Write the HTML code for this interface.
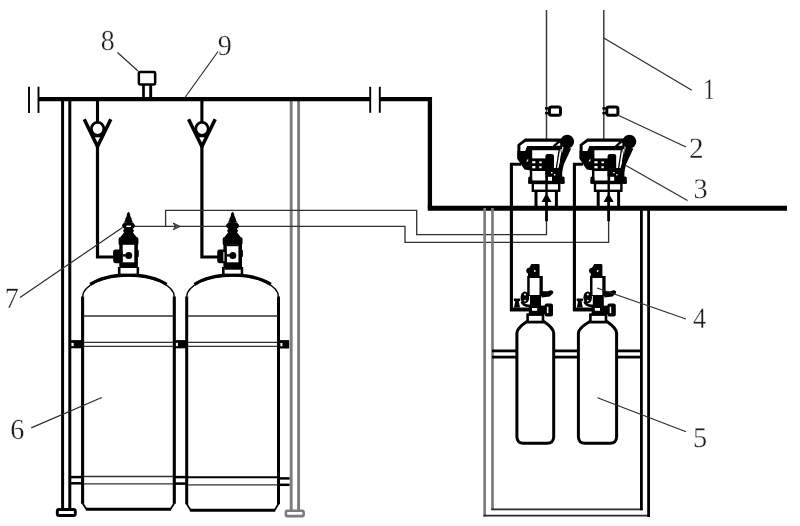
<!DOCTYPE html>
<html>
<head>
<meta charset="utf-8">
<title>Diagram</title>
<style>
html,body{margin:0;padding:0;background:#fff;width:800px;height:526px;overflow:hidden}
svg{display:block;position:absolute;left:0;top:0}
.lbl text{font-family:"Liberation Serif",serif;font-size:100px;fill:#1c1c1c;stroke:#fff;stroke-width:1.07px;text-rendering:geometricPrecision}
.k{stroke:#000;fill:none}
.w{stroke:#000;fill:#fff}
.b{fill:#000;stroke:none}
.thin{stroke:#303030;stroke-width:1.3;fill:none}
.lead{stroke:#2c2c2c;stroke-width:1.2;fill:none}
.g{stroke:#7c7c7c;fill:none}
</style>
</head>
<body>
<svg width="800" height="526" viewBox="0 0 800 526">
<rect x="0" y="0" width="800" height="526" fill="#fff"/>

<defs>
  <filter id="soft" x="-2%" y="-2%" width="104%" height="104%" color-interpolation-filters="sRGB"><feGaussianBlur stdDeviation="0.38"/></filter>
  <!-- check valve (Y with circle), origin = pipe centre x, y absolute -->
  <g id="chk">
    <line class="k" x1="0" y1="100" x2="0" y2="122" stroke-width="3.1"/>
    <polyline class="k" points="-13.3,119.2 0,146.6 13.3,119.2" stroke-width="3.5"/>
    <ellipse class="w" cx="0.1" cy="128.8" rx="6.2" ry="6.5" stroke-width="2.7"/>
    <line class="k" x1="-5.5" y1="136.3" x2="5.5" y2="136.3" stroke-width="2"/>
    <polyline class="k" points="0,144 0,257 16,257" stroke-width="3.2"/>
  </g>

  <!-- big cylinder valve, origin x = valve centre -->
  <g id="bv">
    <path class="b" d="M0,211.7 L1.4,213.2 L1.8,216 L3.1,218.4 L3.5,221 L5.2,222.6 L-5.2,222.6 L-3.5,221 L-3.1,218.4 L-1.8,216 L-1.4,213.2 Z"/>
    <ellipse class="b" cx="0" cy="225.7" rx="6.5" ry="3.8"/>
    <path class="b" d="M-4.3,227 L4.3,227 L4.5,232.6 L8.4,237.6 L-8.4,237.6 L-4.5,232.6 Z"/>
    <rect class="b" x="-5.4" y="229.6" width="10.8" height="2.4" rx="1.2"/>
    <rect class="b" x="-9.9" y="237" width="19.8" height="8.4" rx="2.2"/>
    <rect class="b" x="-9.2" y="242" width="18.6" height="27"/>
    <rect fill="#fff" x="-5.8" y="244.8" width="11.6" height="17.5"/>
    <circle class="b" cx="0.2" cy="255.4" r="3.5"/>
    <rect class="b" x="-5.8" y="254.2" width="3" height="2.4"/>
    <rect class="b" x="-15.4" y="249.6" width="9.4" height="13.6" rx="2.4"/>
    <rect class="b" x="8.8" y="250" width="1.5" height="7" rx=".7"/>
    <rect class="b" x="-10.6" y="267" width="21.2" height="8.8"/>
    <rect fill="#fff" x="-8" y="268" width="16.1" height="5.6"/>
  </g>

  
</defs>
<g filter="url(#soft)">

<!-- ===== left rack ===== -->
<line class="k" x1="62.6" y1="100" x2="62.6" y2="509" stroke-width="3"/>
<line class="k" x1="69.8" y1="100" x2="69.8" y2="509" stroke-width="3"/>
<rect class="w" x="57.3" y="509.5" width="18" height="6" rx="1.8" stroke-width="2.9"/>

<!-- ===== right (gray) rack ===== -->
<line class="g" x1="291.2" y1="100" x2="291.2" y2="510" stroke-width="2.9"/>
<line class="g" x1="298.6" y1="100" x2="298.6" y2="510" stroke-width="2.9"/>
<rect class="g" x="285.9" y="510.8" width="17.7" height="5.3" rx="1.4" stroke-width="2.6" fill="#f2f2f2"/>

<!-- ===== main pipe ===== -->
<line class="k" x1="38.5" y1="99.2" x2="370.2" y2="99.2" stroke-width="4.2"/>
<line class="k" x1="29" y1="86.7" x2="29" y2="112.9" stroke-width="1.9"/>
<line class="k" x1="38.5" y1="86.7" x2="38.5" y2="112.9" stroke-width="1.9"/>
<line class="k" x1="370.2" y1="86.8" x2="370.2" y2="112.8" stroke-width="1.9"/>
<line class="k" x1="379.8" y1="86.8" x2="379.8" y2="112.8" stroke-width="1.9"/>
<polyline class="k" points="379.8,99.2 429.9,99.2 429.9,208.15" stroke-width="4.3" stroke-linejoin="miter"/>
<line class="k" x1="427.75" y1="208.15" x2="787" y2="208.15" stroke-width="5"/>

<!-- box 8 -->
<line class="k" x1="143.5" y1="84" x2="143.5" y2="98" stroke-width="2.7"/>
<line class="k" x1="150.7" y1="84" x2="150.7" y2="98" stroke-width="2.9"/>
<rect class="w" x="138.85" y="71.95" width="16.3" height="12.6" rx="1.2" stroke-width="2.5"/>

<!-- check valves -->
<use href="#chk" x="97.5" y="0"/>
<use href="#chk" x="201.9" y="0"/>

<!-- big cylinders -->
<g transform="translate(128.45,0)">
  <path fill="#fff" stroke="none" d="M-45.85,296 A45.85,21 0 0 1 45.85,296 L45.85,503.8 L42,509.3 L-42,509.3 L-45.85,503.8 Z"/>
  <path class="k" stroke-width="1.3" d="M-45.85,297 A45.85,21 0 0 1 45.85,297"/>
  <path class="k" stroke-width="3.2" d="M-38.2,284.39 A45.85,21 0 0 1 38.2,284.39"/>
  <path class="k" stroke-width="3.1" d="M-45.85,296.6 L-45.85,503.8 M45.85,296.6 L45.85,503.8 M-42.6,509.3 L42.6,509.3"/>
  <path class="k" stroke-width="1.7" d="M-45.85,503.3 L-42,509.3 M45.85,503.3 L42,509.3"/>
  <line class="thin" x1="-45" y1="316" x2="45" y2="316" stroke-width="1.4"/>
  <line class="thin" x1="-45" y1="342.4" x2="45" y2="342.4" stroke-width="1.5" stroke="#1c1c1c"/>
  <line class="thin" x1="-45" y1="346.4" x2="45" y2="346.4" stroke-width="1.5" stroke="#1c1c1c"/>
  <line class="thin" x1="-45" y1="476.5" x2="45" y2="476.5" stroke-width="1.4"/>
  <line class="thin" x1="-45" y1="483.8" x2="45" y2="483.8" stroke-width="1.4"/>
</g>
<g transform="translate(232.6,0)">
  <path fill="#fff" stroke="none" d="M-45.9,296 A45.9,21 0 0 1 45.9,296 L45.9,504.2 L42,510.2 L-42,510.2 L-45.9,504.2 Z"/>
  <path class="k" stroke-width="1.3" d="M-45.9,297 A45.9,21 0 0 1 45.9,297"/>
  <path class="k" stroke-width="3.2" d="M-38.2,284.36 A45.9,21 0 0 1 38.2,284.36"/>
  <path class="k" stroke-width="3" d="M-45.9,296.6 L-45.9,504.2 M45.9,296.6 L45.9,504.2 M-42.6,510.2 L42.6,510.2"/>
  <path class="k" stroke-width="1.7" d="M-45.9,503.7 L-42,510.2 M45.9,503.7 L42,510.2"/>
  <line class="thin" x1="-45" y1="316" x2="45" y2="316" stroke-width="1.4"/>
  <line class="thin" x1="-45" y1="342.4" x2="45" y2="342.4" stroke-width="1.5" stroke="#1c1c1c"/>
  <line class="thin" x1="-45" y1="346.4" x2="45" y2="346.4" stroke-width="1.5" stroke="#1c1c1c"/>
  <line class="k" x1="-45" y1="477.2" x2="45" y2="477.2" stroke-width="2"/>
  <line class="thin" x1="-45" y1="484.8" x2="45" y2="484.8" stroke-width="1.4"/>
</g>

<!-- strap bolts / connectors (upper) -->
<rect class="b" x="70" y="340.1" width="13" height="8.2"/>
<rect x="71.4" y="342.9" width="2.3" height="3.2" fill="#fff"/>
<rect class="b" x="173.5" y="340.1" width="14.3" height="8.2"/>
<rect x="175.9" y="342.9" width="2" height="3.2" fill="#fff"/>
<rect class="b" x="278" y="340.1" width="11.2" height="8.4"/>
<rect x="280.4" y="343" width="2" height="3.2" fill="#fff"/>
<!-- lower strap connectors -->
<g class="k" stroke-width="2.5">
  <line x1="70" y1="477.1" x2="82" y2="477.1"/><line x1="70" y1="483.3" x2="82" y2="483.3"/>
  <line x1="174.5" y1="477.1" x2="186.5" y2="477.1"/><line x1="174.5" y1="483.6" x2="186.5" y2="483.6"/>
  <line x1="279" y1="478.4" x2="289.6" y2="478.4"/><line x1="279" y1="484.8" x2="289.6" y2="484.8"/>
</g>

<!-- thin pipes -->
<polyline class="thin" points="165.6,226.4 165.6,210.3 416.7,210.3 416.7,234.7 546.5,234.7 546.5,219"/>
<polyline class="thin" points="134,226.4 405,226.4 405,242.4 608.6,242.4 608.6,219"/>
<polygon points="173.2,223 180.2,226.4 173.2,229.8 175.4,226.4" fill="#555" stroke="#2a2a2a" stroke-width="0.9"/>

<!-- big cylinder valves -->
<use href="#bv" x="128.5" y="0"/>
<use href="#bv" x="232.6" y="0"/>
<rect x="126.4" y="225.6" width="4.6" height="1.4" fill="#fff"/>
<rect x="223.4" y="252" width="1" height="9" fill="#fff"/>
<rect class="b" x="224.4" y="267.4" width="16.6" height="2.3"/>
<rect class="b" x="226.6" y="244.4" width="12" height="1.8"/>

<!-- ===== right assembly ===== -->
<!-- enclosure -->
<line class="g" x1="484.65" y1="208" x2="484.65" y2="516.4" stroke-width="2.7"/>
<line class="g" x1="492.5" y1="208" x2="492.5" y2="510" stroke-width="2.7"/>
<line x1="483.4" y1="515.7" x2="650" y2="515.7" stroke="#2a2a2a" stroke-width="1.7"/>
<line x1="491.2" y1="509.3" x2="642.8" y2="509.3" stroke="#2a2a2a" stroke-width="1.7"/>
<line class="k" x1="641.4" y1="208" x2="641.4" y2="510.2" stroke-width="2.8"/>
<line class="k" x1="648.6" y1="208" x2="648.6" y2="517" stroke-width="2.8"/>

<!-- brackets -->
<g class="k" stroke-width="2.8">
  <line x1="492" y1="350.9" x2="517" y2="350.9"/><line x1="492" y1="357.1" x2="517" y2="357.1"/>
  <line x1="553.5" y1="350.9" x2="578.5" y2="350.9"/><line x1="553.5" y1="357.1" x2="578.5" y2="357.1"/>
  <line x1="616.5" y1="350.9" x2="641" y2="350.9"/><line x1="616.5" y1="357.1" x2="641" y2="357.1"/>
</g>

<!-- sensor wires -->
<line x1="546.5" y1="10" x2="546.5" y2="141" stroke="#3a3a3a" stroke-width="1.5"/>
<line x1="603.8" y1="10" x2="603.8" y2="141" stroke="#3a3a3a" stroke-width="1.5"/>
<!-- sensor boxes (2) -->
<g id="sb">
  <rect class="b" x="545" y="107.2" width="4" height="2.3"/>
  <rect class="b" x="545" y="112" width="4" height="2.3"/>
  <rect class="w" x="549.4" y="107.1" width="11.1" height="8.2" rx="2" stroke-width="3"/>
</g>
<use href="#sb" x="57.4" y="0"/>

<!-- arrows into actuators -->
<g>
  <line class="k" x1="546.5" y1="199" x2="546.5" y2="221.2" stroke-width="2.8"/>
  <polygon class="b" points="546.5,193 541.5,201.9 551.5,201.9"/>
  <line class="k" x1="608.6" y1="199" x2="608.6" y2="221.2" stroke-width="2.8"/>
  <polygon class="b" points="608.6,193 603.6,201.9 613.6,201.9"/>
</g>

<!-- pipes from actuators to small-cylinder valves -->
<polyline class="k" points="521,164.3 511.4,164.3 511.4,309.6 529,309.6" stroke-width="3.1"/>
<polyline class="k" points="583,164.3 574.4,164.3 574.4,309.6 592,309.6" stroke-width="3.1"/>

<line class="k" x1="510.1" y1="309.4" x2="529" y2="309.4" stroke-width="3.8"/>
<line class="k" x1="573.1" y1="309.4" x2="592" y2="309.4" stroke-width="3.8"/>

<!-- small cylinders -->
<g id="sc">
  <path class="w" stroke-width="3" d="M516.9,333 L516.9,437 Q517.2,443.3 523.5,443.3 L547,443.3 Q553.4,443.3 553.7,437 L553.7,333 Q553.3,328 544.2,321.8 L526.6,321.8 Q517.3,328 516.9,333 Z"/>
  <rect class="w" x="527.6" y="314.6" width="15.4" height="7.4" stroke-width="2.6"/>
</g>
<g>
  <path class="w" stroke-width="3" d="M578.4,333 L578.4,437 Q578.7,443.3 585,443.3 L610,443.3 Q616.3,443.3 616.6,437 L616.6,333 Q616.2,328 607.2,321.8 L589.4,321.8 Q578.8,328 578.4,333 Z"/>
  <rect class="w" x="590.4" y="314.6" width="15.6" height="7.4" stroke-width="2.6"/>
</g>

<!-- actuators (3) -->
<g id="act">
  <!-- stem tube -->
  <line class="k" x1="536" y1="191" x2="536" y2="208" stroke-width="3"/>
  <line class="k" x1="556.4" y1="191" x2="556.4" y2="208" stroke-width="3"/>
  <!-- lower neck -->
  <rect class="w" x="532.8" y="183" width="26.4" height="7.8" stroke-width="2.4"/>
  <!-- body -->
  <rect class="w" x="531" y="148" width="30" height="34" stroke-width="2.4"/>
  <!-- flange -->
  <rect class="b" x="528.4" y="180.6" width="36" height="3.2"/>
  <rect class="b" x="528.2" y="176.6" width="4" height="7.2" rx="1.5"/>
  <rect class="b" x="561" y="176.6" width="3.6" height="7.2" rx="1.5"/>
  <!-- hood -->
  <path class="b" d="M517.4,159 L517.4,144.4 L525,138.6 L562,138.6 L562,150.2 L530,150.2 L530,159 Z"/>
  <path fill="#fff" d="M520.4,151.4 L520.4,145.6 L525.6,141.7 L557,141.7 L552.5,146 L527.2,146 L525,151.4 Z"/>
  <path fill="#fff" d="M555.8,145.8 L560.2,142.6 L560.2,145.8 Z"/>
  <!-- left lug -->
  <path class="b" d="M517.4,151 L531,151 L531,170.6 L524.5,169.6 L517.4,159 Z"/>
  <path fill="#fff" d="M526.2,161.4 L528.2,158.6 L528.2,161.4 Z"/>
  <!-- band with bolts -->
  <rect class="b" x="531" y="158.4" width="16" height="12.6"/>
  <rect fill="#fff" x="532.2" y="161.2" width="3.2" height="2.1"/>
  <rect fill="#fff" x="539.2" y="161.4" width="2.6" height="1.8"/>
  <rect fill="#fff" x="532.2" y="166" width="3.2" height="2.3"/>
  <rect fill="#fff" x="539.2" y="166.2" width="2.4" height="2"/>
  <!-- plunger -->
  <rect class="b" x="545.4" y="154" width="8.6" height="24" rx="2.2"/>
  <!-- lower-right dark block -->
  <rect class="b" x="547" y="168" width="13.5" height="13"/>
  <rect fill="#fff" x="548" y="176.8" width="4" height="4"/>
  <rect fill="#fff" x="557.6" y="175.4" width="2.2" height="5.4"/>
  <rect fill="#fff" x="551" y="172" width="1.4" height="1.4"/>
  <rect fill="#fff" x="554" y="174" width="1.4" height="1.4"/>
  <!-- centre stem -->
  <line class="k" x1="546.5" y1="170" x2="546.5" y2="195" stroke-width="2.4"/>
  <!-- lever -->
  <path class="b" d="M563.6,147 L571.2,148.6 L564,164 L561.2,175.5 L560.2,181 L555.6,181 L558.4,167.5 Z"/>
  <path d="M561.3,149.2 L557.9,167" stroke="#fff" stroke-width="1.3" fill="none"/>
  <path d="M559.4,148.6 L556,170.5" stroke="#000" stroke-width="1.3" fill="none"/>
  <!-- ball -->
  <circle class="b" cx="567.2" cy="141.6" r="6.9"/>
</g>
<use href="#act" x="62.2" y="0"/>

<!-- small cylinder valves (4) -->
<g id="sv">
  <!-- cap -->
  <path class="b" d="M531.4,264 L538.4,264 Q539.6,264 539.6,265.4 L539.6,277 L528,277 L528,273.4 L526.6,272.4 Q525.6,270 527,268.4 L529.4,267.4 Z"/>
  <circle fill="#fff" cx="534.8" cy="271" r="0.9"/>
  <!-- body -->
  <rect class="b" x="527.2" y="276" width="15.6" height="20"/>
  <rect fill="#fff" x="529.7" y="278" width="9.8" height="17"/>
  <!-- lever -->
  <path class="b" d="M541.5,291.2 L547.8,291.3 L550.6,290.2 Q553.9,290.4 553.2,293.2 L549.8,296.5 L541.5,297.6 Z"/>
  <!-- lower body -->
  <rect class="b" x="530" y="295" width="11" height="12"/>
  <!-- gauge -->
  <ellipse class="b" cx="524.9" cy="297.4" rx="4.3" ry="6"/>
  <circle fill="#fff" cx="525" cy="294.5" r="1"/>
  <circle fill="#fff" cx="525" cy="300.6" r="0.9"/>
  <path class="k" stroke-width="2.4" d="M521.6,301.5 Q523.5,306.4 530.5,305.6"/>
  <!-- bracket piece -->
  <path class="b" d="M513.8,298.6 L520.2,298.6 L520.2,300.8 L518.8,301.4 L520,307.6 L514,307.6 L515.2,301.4 L513.8,300.8 Z"/>
  <!-- junction block -->
  <rect class="b" x="528.8" y="305.6" width="16.4" height="8.6"/>
  <rect fill="#fff" x="532" y="308" width="5.2" height="2.8"/>
  <!-- right knob -->
  <rect class="b" x="544.6" y="303.6" width="8.4" height="13" rx="2"/>
  <rect fill="#fff" x="546.9" y="306.8" width="1.5" height="6.4"/>
</g>
<use href="#sv" x="62.8" y="0"/>

<!-- labels -->
<g class="lbl">
<text transform="translate(705.00,79.50) scale(0.2414,0.2939)" x="-8.79" y="66.02">1</text>
<text transform="translate(690.25,138.70) scale(0.2931,0.2945)" x="-4.39" y="66.21">2</text>
<text transform="translate(694.80,179.00) scale(0.2832,0.2828)" x="-4.79" y="66.21">3</text>
<text transform="translate(693.60,308.70) scale(0.2603,0.2917)" x="-1.95" y="65.82">4</text>
<text transform="translate(694.70,427.80) scale(0.2830,0.2874)" x="-5.81" y="65.48">5</text>
<text transform="translate(11.40,419.90) scale(0.2809,0.2887)" x="-4.30" y="66.21">6</text>
<text transform="translate(6.70,288.70) scale(0.2813,0.2948)" x="-6.59" y="65.48">7</text>
<text transform="translate(101.90,30.30) scale(0.2784,0.2890)" x="-3.81" y="66.50">8</text>
<text transform="translate(218.70,35.60) scale(0.2812,0.2887)" x="-3.22" y="66.21">9</text>
</g>

<!-- leaders -->
<line class="lead" x1="603.8" y1="38" x2="691.8" y2="90.2"/>
<line class="lead" x1="618.8" y1="115.5" x2="686" y2="147"/>
<line class="lead" x1="626" y1="165.5" x2="687.5" y2="200.5"/>
<line class="lead" x1="597" y1="288" x2="686" y2="319"/>
<line class="lead" x1="597.5" y1="397.8" x2="686" y2="431.8"/>
<line class="lead" x1="31.2" y1="427.9" x2="101.8" y2="397.5"/>
<line class="lead" x1="20" y1="297.5" x2="122.5" y2="227.5"/>
<line class="lead" x1="117.5" y1="52.5" x2="138" y2="71"/>
<line class="lead" x1="218" y1="51.5" x2="185" y2="97.5"/>
</g>
</svg>
</body>
</html>
